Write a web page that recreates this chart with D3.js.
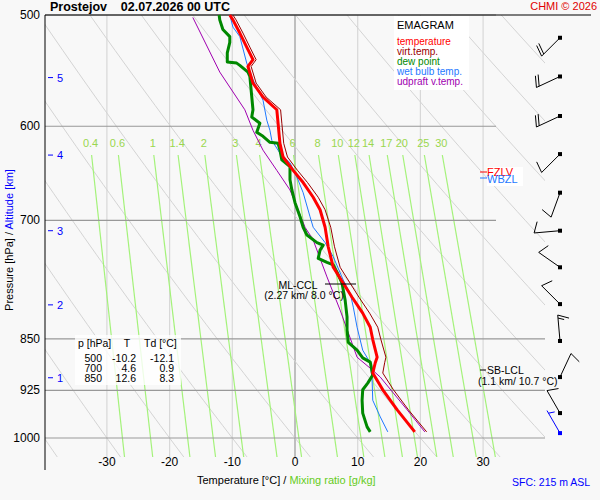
<html>
<head>
<style>
  body { margin: 0; background: #f8f8f8; }
  text { font-family: "Liberation Sans", Arial, sans-serif; }
</style>
<script src="https://cdnjs.cloudflare.com/ajax/libs/d3/7.8.5/d3.min.js"></script>
</head>
<body>
<script>
// profile data (p in hPa, values in degC)
var tempP = [500,504,515,527,538,544,559,572,584,597,617,631,645,658,674,688,708,731,756,776,794,815,834,851,876,884,899,924,955,990];
var tempT = [-10.4,-9.9,-8.8,-7.7,-6.7,-7.5,-6.7,-5.1,-2.9,-2.7,-2.4,-1.9,-0.3,1.3,2.9,4.0,4.8,5.3,6.1,7.7,9.1,10.8,12.0,12.4,13.1,12.8,12.4,14.0,16.3,19.1];
var virtT = [-9.9,-9.4,-8.3,-7.2,-6.2,-7.0,-6.2,-4.6,-2.3,-2.1,-1.8,-1.2,0.4,2.0,3.7,4.8,5.7,6.3,7.2,8.8,10.2,11.9,13.2,13.7,14.5,14.3,14.0,15.7,18.1,21.0];
var dewP = [500,504,512,518,523,532,540,541,543,549,553,584,591,597,606,610,616,617,624,634,641,655,666,680,696,708,717,726,729,735,745,750,753,762,776,798,820,838,855,866,877,883,902,914,924,940,960,982,990];
var dewT = [-12.1,-12.0,-11.5,-10.4,-10.4,-10.8,-10.8,-9.3,-8.8,-7.5,-7.2,-6.7,-6.9,-5.6,-6.1,-5.1,-4.0,-2.7,-2.4,-2.1,-0.8,-0.8,-0.5,0.0,0.8,1.3,1.9,3.5,4.5,4.0,3.7,5.1,6.1,6.7,7.5,8.0,8.3,8.3,8.5,9.9,10.8,12.0,12.4,11.6,10.8,10.7,10.8,11.5,12.0];
var wetP = [500,510,518,541,556,575,594,604,614,627,637,652,669,696,708,726,743,772,789,807,834,866,884,909,940,966,990];
var wetT = [-10.4,-9.9,-8.8,-7.7,-6.7,-5.1,-4.5,-4.0,-3.7,-2.4,-0.8,0.3,1.3,2.4,2.9,4.8,6.1,7.7,8.8,9.3,9.9,10.8,12.0,12.3,12.4,13.6,14.8];
var parcelP = [502,549,584,604,624,645,666,688,708,723,768,811,876,895,905,955,990];
var parcelT = [-16.3,-12.0,-8.0,-6.7,-5.1,-2.9,-0.8,0.5,1.6,2.9,5.1,7.2,9.9,12.4,13.6,17.9,20.7];

var pressureTicks = [500,600,700,850,925,1000];
var tempTicks = [-30,-20,-10,0,10,20,30];
var mixRatios = [0.4,0.6,1,1.4,2,3,4,6,8,10,12,14,17,20,25,30];
var thetas = [-40,-30,-20,-10,0,10,20,30,40,50,60,70,80,90,100,110];
var altKm = [1,2,3,4,5];
var altP = [906,804,712,629,554];
var tableRows = [["500","-10.2","-12.1"],["700","4.6","0.9"],["850","12.6","8.3"]];
var windP = [519,553,590,628,669,712,756,803,853,905,960,992];
var windDir = [225,245,245,225,200,265,305,315,355,25,330,330];
var windKt = [20,20,20,10,10,10,10,10,15,10,10,5];

var svg = d3.select("body").append("svg").attr("width", 600).attr("height", 500);
svg.append("rect").attr("width", 600).attr("height", 500).attr("fill", "#f8f8f8");

var x = d3.scaleLinear().domain([0, 10]).range([295, 357.7]);
var y = d3.scaleLog().domain([500, 1000]).range([15, 438]);
var pBottom = y.invert(457);

svg.append("clipPath").attr("id", "plot").append("rect")
  .attr("x", 45).attr("y", 15).attr("width", 500).attr("height", 442);
var g = svg.append("g").attr("clip-path", "url(#plot)");

// isotherms
g.selectAll(".iso").data(tempTicks).enter().append("line")
  .attr("x1", d => x(d)).attr("x2", d => x(d)).attr("y1", 15).attr("y2", 457)
  .attr("stroke", d => d == 0 ? "#999" : "#d8d8d8").attr("stroke-width", 1.2);

// dry adiabats
var pLevels = d3.range(500, 1060, 10);
var line = d3.line().x(d => x(d[1])).y(d => y(d[0]));
g.selectAll(".dry").data(thetas).enter().append("path")
  .attr("d", th => line(pLevels.map(p => [p, (th + 273.15) * Math.pow(p / 1000, 0.286) - 273.15])))
  .attr("fill", "none").attr("stroke", "#d4d4d4").attr("stroke-width", 1);

// mixing ratio lines
function tdFromW(w, p) {
  var e = w * p / (622 + w);
  var l = Math.log(e / 6.112);
  return 243.5 * l / (17.67 - l);
}
var mixTop = y.invert(155);
g.selectAll(".mix").data(mixRatios).enter().append("line")
  .attr("x1", w => x(tdFromW(w, mixTop))).attr("y1", 155)
  .attr("x2", w => x(tdFromW(w, pBottom))).attr("y2", 457)
  .attr("stroke", "#a4f27a").attr("stroke-width", 1.2);
svg.selectAll(".mixl").data(mixRatios).enter().append("text")
  .attr("x", w => x(tdFromW(w, mixTop)) - 1).attr("y", 147)
  .attr("text-anchor", "middle").attr("font-size", 11).attr("fill", "#9ad74f")
  .text(d => d);

// pressure grid
svg.selectAll(".pg").data(pressureTicks).enter().append("line")
  .attr("x1", 45).attr("x2", d => d < 800 ? 496 : 545)
  .attr("y1", d => y(d)).attr("y2", d => y(d))
  .attr("stroke", "#999").attr("stroke-width", 1.2);
svg.selectAll(".pl").data(pressureTicks).enter().append("text")
  .attr("x", 40).attr("y", d => y(d) + 4).attr("text-anchor", "end")
  .attr("font-size", 12).text(d => d);

// axes frame
svg.append("line").attr("x1", 45).attr("x2", 45).attr("y1", 15).attr("y2", 470).attr("stroke", "#000");
svg.append("line").attr("x1", 45).attr("x2", 591).attr("y1", 15).attr("y2", 15).attr("stroke", "#000");
svg.selectAll(".tl").data(tempTicks).enter().append("text")
  .attr("x", d => x(d)).attr("y", 466).attr("text-anchor", "middle")
  .attr("font-size", 12).text(d => d);

// altitude ticks
var alt = svg.selectAll(".alt").data(altKm).enter().append("g");
alt.append("line").attr("x1", 48).attr("x2", 53)
  .attr("y1", (d, i) => y(altP[i])).attr("y2", (d, i) => y(altP[i])).attr("stroke", "#00f");
alt.append("text").attr("x", 57).attr("y", (d, i) => y(altP[i]) + 4)
  .attr("font-size", 11).attr("fill", "#00f").text(d => d);

// profiles
function prof(ps, ts, color, w) {
  svg.append("path").attr("d", line(ps.map((p, i) => [p, ts[i]])))
    .attr("fill", "none").attr("stroke", color).attr("stroke-width", w)
    .attr("stroke-linejoin", "round");
}
prof(parcelP, parcelT, "#a000b0", 1);
prof(tempP, virtT, "#990000", 1);
prof(wetP, wetT, "#1e78ff", 1);
prof(dewP, dewT, "#008800", 3);
prof(tempP, tempT, "#ff0000", 3);

// CCL / LCL annotations
svg.append("line").attr("x1", 325).attr("x2", 356).attr("y1", 284).attr("y2", 284).attr("stroke", "#000");
svg.append("text").attr("x", 298).attr("y", 289).attr("text-anchor", "middle").attr("font-size", 10.5).text("ML-CCL");
svg.append("text").attr("x", 304).attr("y", 299).attr("text-anchor", "middle").attr("font-size", 10.5).text("(2.27 km/ 8.0 °C)");
svg.append("line").attr("x1", 480).attr("x2", 486).attr("y1", 370).attr("y2", 370).attr("stroke", "#000");
svg.append("text").attr("x", 487).attr("y", 374).attr("font-size", 10.5).text("SB-LCL");
svg.append("text").attr("x", 478).attr("y", 385).attr("font-size", 10.5).text("(1.1 km/ 10.7 °C)");

// freezing level labels
svg.append("rect").attr("x", 487).attr("y", 167).attr("width", 36).attr("height", 17).attr("fill", "#fff");
svg.append("line").attr("x1", 480).attr("x2", 487).attr("y1", 172).attr("y2", 172).attr("stroke", "#f00");
svg.append("text").attr("x", 487).attr("y", 176).attr("font-size", 11).attr("fill", "#f00").text("FZLV");
svg.append("rect").attr("x", 487).attr("y", 176).attr("width", 36).attr("height", 10).attr("fill", "#fff");
svg.append("line").attr("x1", 480).attr("x2", 487).attr("y1", 178).attr("y2", 178).attr("stroke", "#1e78ff");
svg.append("text").attr("x", 487).attr("y", 183).attr("font-size", 11).attr("fill", "#1e78ff").text("WBZL");

// level table
svg.append("rect").attr("x", 75).attr("y", 335).attr("width", 106).attr("height", 50).attr("fill", "#fff").attr("opacity", 0.8);
svg.append("text").attr("x", 78).attr("y", 347).attr("font-size", 10.5).text("p [hPa]");
svg.append("text").attr("x", 127).attr("y", 347).attr("text-anchor", "middle").attr("font-size", 10.5).text("T");
svg.append("text").attr("x", 144).attr("y", 347).attr("font-size", 10.5).text("Td [°C]");
tableRows.forEach(function(r, i) {
  var ty = 362 + i * 10;
  svg.append("text").attr("x", 102).attr("y", ty).attr("text-anchor", "end").attr("font-size", 10.5).text(r[0]);
  svg.append("text").attr("x", 136).attr("y", ty).attr("text-anchor", "end").attr("font-size", 10.5).text(r[1]);
  svg.append("text").attr("x", 174).attr("y", ty).attr("text-anchor", "end").attr("font-size", 10.5).text(r[2]);
});

// legend
svg.append("rect").attr("x", 394).attr("y", 16).attr("width", 75).attr("height", 74).attr("fill", "#fff");
svg.append("text").attr("x", 397).attr("y", 29).attr("font-size", 11).text("EMAGRAM");
var legItems = [["temperature", "#ff0000"], ["virt.temp.", "#990000"], ["dew point", "#008800"], ["wet bulb temp.", "#1e78ff"], ["udpraft v.temp.", "#a000b0"]];
svg.selectAll(".leg").data(legItems).enter().append("text")
  .attr("x", 397).attr("y", (d, i) => 45 + i * 10).attr("font-size", 10)
  .attr("fill", d => d[1]).text(d => d[0]);

// wind barbs
function barb(p, dir, kt, color) {
  var cx = 560, cy = y(p);
  var a = dir * Math.PI / 180;
  var dx = Math.sin(a), dy = -Math.cos(a);
  var len = 26;
  var bg = svg.append("g").attr("stroke", color).attr("fill", "none").attr("stroke-width", 1);
  bg.append("line").attr("x1", cx).attr("y1", cy).attr("x2", cx + dx * len).attr("y2", cy + dy * len);
  var fx = -dy, fy = dx;
  var n = Math.floor(kt / 10), half = (kt % 10) >= 5;
  var pos = len;
  for (var i = 0; i < n; i++) {
    var bx = cx + dx * pos, by = cy + dy * pos;
    bg.append("line").attr("x1", bx).attr("y1", by)
      .attr("x2", bx + fx * 11 - dx * 4).attr("y2", by + fy * 11 - dy * 4);
    pos -= 3;
  }
  if (half) {
    if (n == 0) pos -= 3;
    var hx = cx + dx * pos, hy = cy + dy * pos;
    bg.append("line").attr("x1", hx).attr("y1", hy)
      .attr("x2", hx + fx * 6 - dx * 2).attr("y2", hy + fy * 6 - dy * 2);
  }
  svg.append("rect").attr("x", cx - 2).attr("y", cy - 2).attr("width", 4).attr("height", 4).attr("fill", color);
}
windP.forEach(function(p, i) {
  barb(p, windDir[i], windKt[i], i == windP.length - 1 ? "#0000ff" : "#000");
});

// titles
svg.append("text").attr("x", 50).attr("y", 11).attr("font-size", 12.5).attr("font-weight", "bold")
  .style("white-space", "pre").text("Prostejov    02.07.2026 00 UTC");
svg.append("text").attr("x", 597).attr("y", 10).attr("text-anchor", "end").attr("font-size", 11).attr("fill", "#e00000").text("CHMI © 2026");
var yl = svg.append("text").attr("transform", "translate(13,240) rotate(-90)").attr("text-anchor", "middle").attr("font-size", 11);
yl.append("tspan").text("Pressure [hPa]  /  ");
yl.append("tspan").attr("fill", "#00f").text("Altitude [km]");
var xl = svg.append("text").attr("x", 197).attr("y", 484).attr("font-size", 11);
xl.append("tspan").text("Temperature [°C]  /  ");
xl.append("tspan").attr("fill", "#66cc22").text("Mixing ratio [g/kg]");
svg.append("text").attr("x", 512).attr("y", 486).attr("font-size", 10.5).attr("fill", "#00f").text("SFC: 215 m ASL");
</script>
</body>
</html>
